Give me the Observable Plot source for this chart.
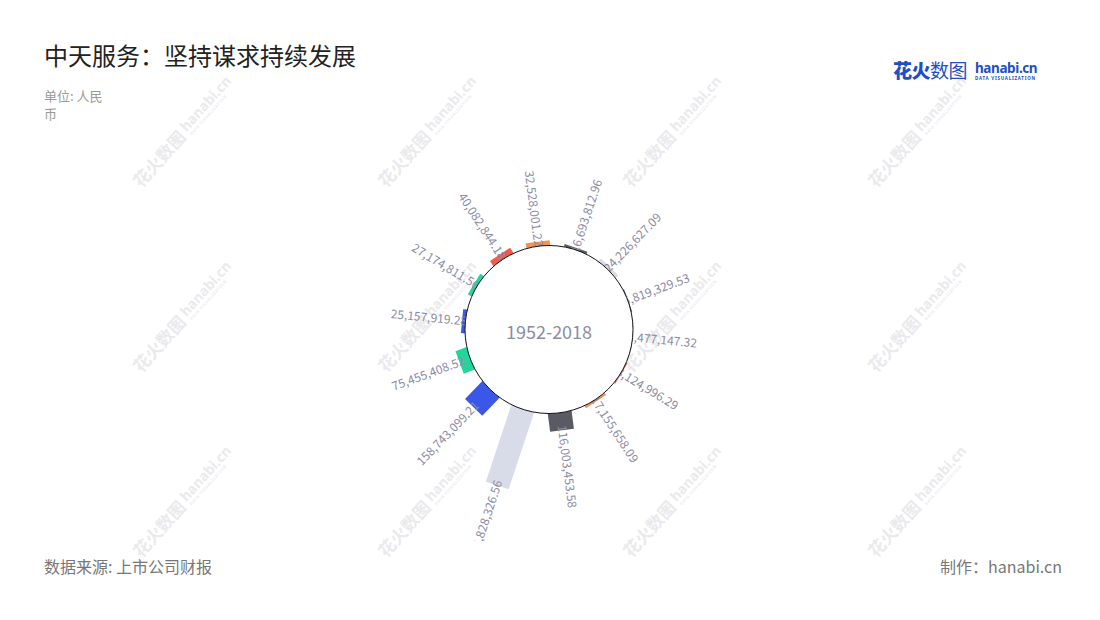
<!DOCTYPE html>
<html>
<head>
<meta charset="utf-8">
<script src="https://cdn.jsdelivr.net/npm/d3@7"></script>
<script src="https://cdn.jsdelivr.net/npm/@observablehq/plot@0.6"></script>
<style>
  body { margin: 0; background: #fff; font-family: "Noto Sans CJK SC", "Noto Sans", sans-serif; }
  #page { position: relative; width: 1100px; height: 620px; overflow: hidden; background: #fff; }
  #wm { position: absolute; left: 0; top: 0; }
  #title { position: absolute; left: 44px; top: 42px; font-size: 24px; line-height: 26px; color: #222; }
  #unit { position: absolute; left: 44px; top: 87px; width: 66px; font-size: 13px; line-height: 18px; color: #999; }
  #chart { position: absolute; left: 0; top: 131px; }
  #source { position: absolute; left: 44px; top: 557px; font-size: 16px; line-height: 19px; color: #777; }
  #credit { position: absolute; right: 38px; top: 557px; font-size: 16px; line-height: 19px; color: #777; }
  #logo1 { position: absolute; left: 893px; top: 59px; font-size: 19px; line-height: 22px; color: #1f4fc2; letter-spacing: -0.5px; }
  #logo2 { position: absolute; left: 975px; top: 61px; color: #1f4fc2; }
</style>
</head>
<body>
<div id="page">
  <svg id="wm" width="1100" height="620"></svg>
  <div id="title">中天服务：坚持谋求持续发展</div>
  <div id="unit">单位: 人民币</div>
  <div id="logo1"><span style="font-weight:900">花火</span><span style="font-weight:400">数图</span></div>
  <div id="logo2">
    <div style="font: 700 13.5px/14px 'Noto Sans', sans-serif; letter-spacing:-0.4px">hanabi.cn</div>
    <div style="font: 700 4.5px/7px 'Noto Sans', sans-serif; letter-spacing: 0.75px">DATA VISUALIZATION</div>
  </div>
  <div id="chart"></div>
  <div id="source">数据来源: 上市公司财报</div>
  <div id="credit">制作：hanabi.cn</div>
</div>
<script>
// ---- data (clockwise, first bar sits left of centre) ----
const values = [
  25157919.28, 27174811.56, 40082844.18, 32528001.22, 16693812.96,
  24226627.09, 5819329.53, 1477147.32, 8124996.29, 17155658.09,
  116003453.58, 515828326.56, 158743099.21, 75455408.52
];
const palette = ["#3b57e8", "#22d69b", "#f4594b", "#fa8f52", "#5a5a64", "#d8dce8"];
const periodLabel = "1952-2018";

// ---- layout settings ----
const W = 1100, H = 410;          // svg size
const CX = 548.5, CY = 198;       // centre in svg px
const startAngle = 275.5;         // degrees, clockwise from 12 o'clock
const holeR = 84;
const barWidth = 24;
const labelColor = "#8b8ba6";
const font = "'Noto Sans CJK SC', 'Noto Sans', sans-serif";

const step = 360 / values.length;
const rows = values.map((v, i) => ({
  i, v,
  a: (startAngle + i * step) % 360,
  c: i % palette.length,
  label: d3.format(",.2f")(v)
}));

const r = d3.scaleLinear().domain([0, 600e6]).range([83.4, 83.4 + 94.2]);
const px = (rr, a) => rr * Math.sin(a * Math.PI / 180);
const py = (rr, a) => rr * Math.cos(a * Math.PI / 180);
const lab = d => r(d.v) - 5;

const right = rows.filter(d => d.a < 180);
const left = rows.filter(d => d.a >= 180);

const chart = Plot.plot({
  width: W, height: H, margin: 0,
  x: {domain: [-CX, W - CX], axis: null},
  y: {domain: [-(H - CY), CY], axis: null},
  color: {type: "ordinal", domain: d3.range(palette.length), range: palette},
  style: {background: "transparent", overflow: "hidden", fontFamily: font},
  marks: [
    Plot.link(rows, {
      x1: d => px(r(0), d.a), y1: d => py(r(0), d.a),
      x2: d => px(r(d.v), d.a), y2: d => py(r(d.v), d.a),
      stroke: "c", strokeWidth: barWidth, strokeLinecap: "butt", strokeOpacity: 1
    }),
    Plot.text(right, {
      x: d => px(lab(d), d.a), y: d => py(lab(d), d.a),
      text: "label", rotate: d => d.a - 90, textAnchor: "start",
      fontSize: 12, fill: labelColor, fontFamily: font
    }),
    Plot.text(left, {
      x: d => px(lab(d), d.a), y: d => py(lab(d), d.a),
      text: "label", rotate: d => d.a - 270, textAnchor: "end",
      fontSize: 12, fill: labelColor, fontFamily: font
    }),
    Plot.dot([{x: 0, y: 0}], {x: "x", y: "y", r: holeR, fill: "white", stroke: "#111", strokeWidth: 1}),
    Plot.text([periodLabel], {x: 0, y: 0, dy: 4, text: d => d, fontSize: 18, fill: "#8d8da2", fontFamily: font})
  ]
});
document.getElementById("chart").appendChild(chart);

// ---- watermark ----
const wm = d3.select("#wm");
const wmX = [185, 430, 675, 920], wmY = [131, 316, 501];
for (const y of wmY) for (const x of wmX) {
  const g = wm.append("g").attr("transform", `translate(${x},${y}) rotate(-48)`).attr("fill", "#eaeaed");
  g.append("text").attr("x", -4).attr("y", 6).attr("text-anchor", "end")
    .style("font", "700 17px 'Noto Sans CJK SC'").text("花火数图");
  g.append("text").attr("x", 0).attr("y", 2).style("font", "700 14px 'Noto Sans'").text("hanabi.cn");
  g.append("text").attr("x", 1).attr("y", 8).style("font", "700 4px 'Noto Sans'").attr("letter-spacing", "0.6").text("DATA VISUALIZATION");
}
</script>
</body>
</html>
